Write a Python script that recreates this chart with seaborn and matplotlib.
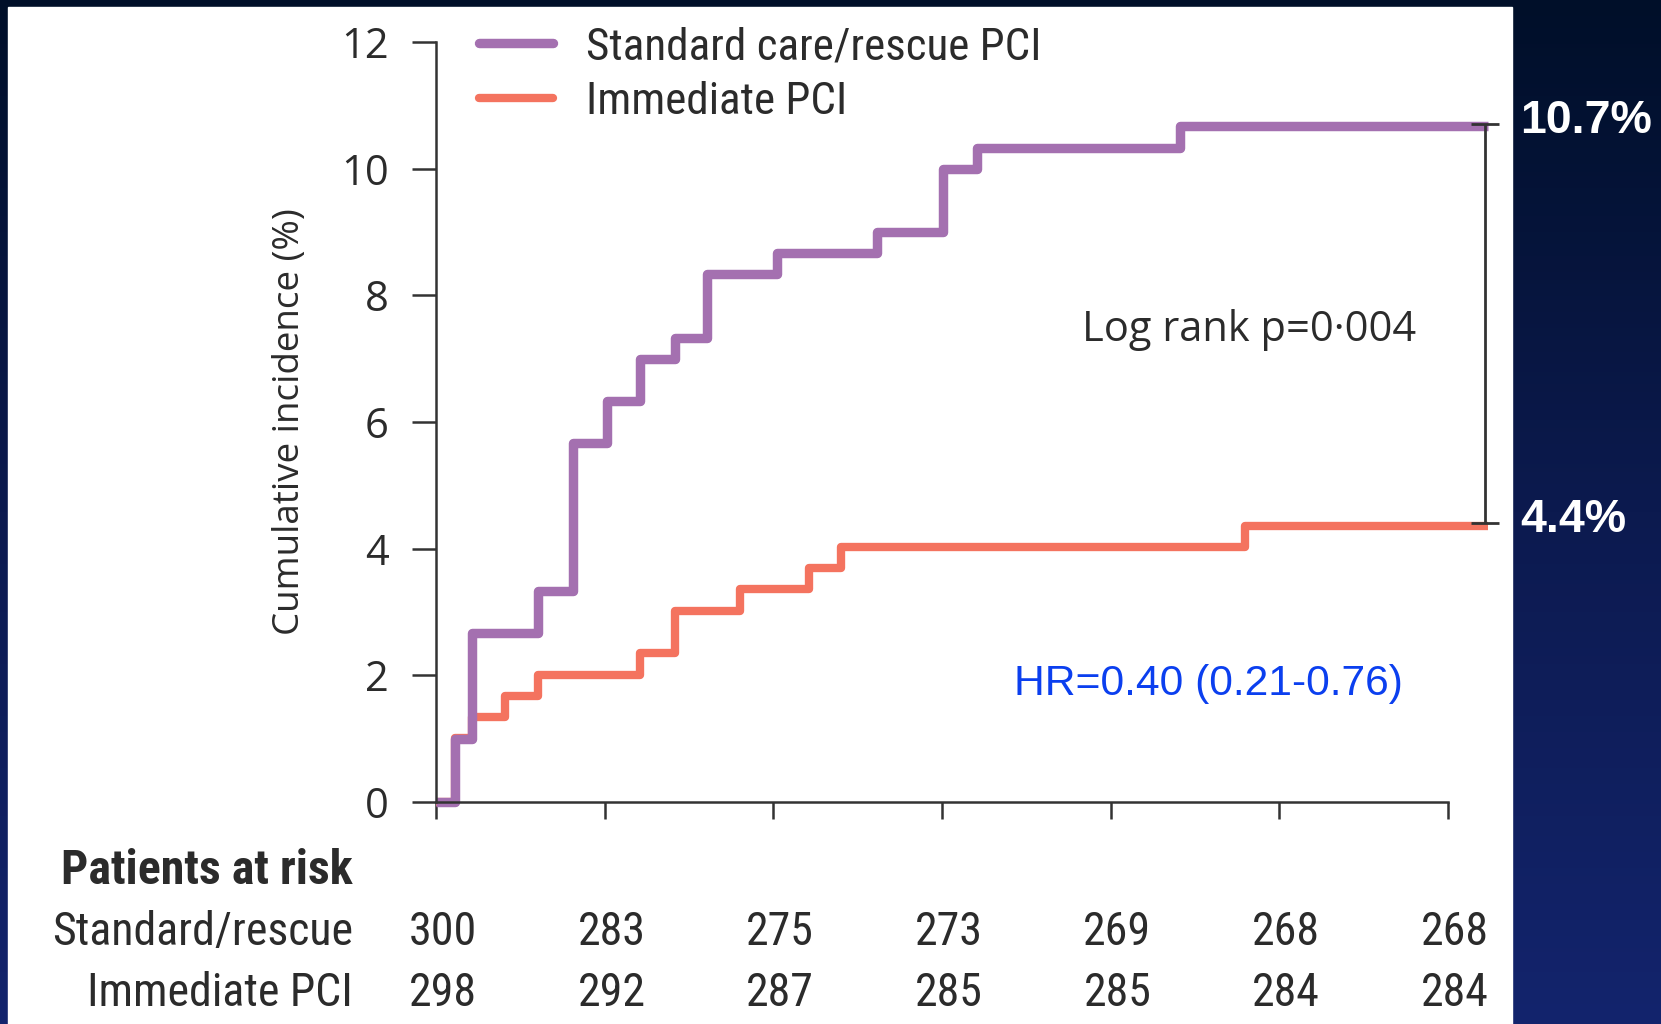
import numpy as np
import pandas as pd
import matplotlib
matplotlib.use("Agg")
import matplotlib.pyplot as plt
import seaborn as sns
from matplotlib import font_manager as fm
from matplotlib.colors import LinearSegmentedColormap
from matplotlib.patches import Rectangle
import matplotlib.transforms as mtrans

# ---------------- data ----------------
groups = ["Standard care/rescue PCI", "Immediate PCI"]
days_std = [0, 0.56, 1.06, 3.02, 4.07, 5.07, 6.05, 7.09, 8.04, 10.1, 13.07, 15.03, 16.03, 22.06, 31.2]
cuminc_std = [0, 1.0, 2.67, 3.33, 5.67, 6.33, 7.0, 7.33, 8.33, 8.67, 9.0, 10.0, 10.33, 10.67, 10.67]
days_imm = [0, 0.56, 1.07, 2.05, 3.02, 6.05, 7.09, 9.0, 11.06, 12.0, 23.98, 31.2]
cuminc_imm = [0, 1.01, 1.34, 1.68, 2.01, 2.35, 3.02, 3.36, 3.69, 4.03, 4.36, 4.36]
final_pct = [10.7, 4.4]
final_labels = ["10.7%", "4.4%"]
y_ticks = [0, 2, 4, 6, 8, 10, 12]
x_ticks = [0, 5, 10, 15, 20, 25, 30]
risk_rows = ["Standard/rescue", "Immediate PCI"]
risk_std = [300, 283, 275, 273, 269, 268, 268]
risk_imm = [298, 292, 287, 285, 285, 284, 284]
logrank_text = "Log rank p=0\u00b7004"
hr_text = "HR=0.40 (0.21-0.76)"
ylabel_text = "Cumulative incidence (%)"
risk_title = "Patients at risk"

# ---------------- style ----------------
sns.set_theme(style="white")
available = {f.name for f in fm.fontManager.ttflist}
narrow = next((f for f in ["Liberation Sans Narrow", "Roboto Condensed",
                           "DejaVu Sans Condensed"] if f in available), "Liberation Sans")
plt.rcParams["font.family"] = ["Open Sans", "DejaVu Sans"]

PURPLE = "#a470b0"
ORANGE = "#f4735f"
TXT = "#2b2b2b"
W, H = 1661, 1024

fig = plt.figure(figsize=(W / 100, H / 100), dpi=100)

# background gradient + white panel
bg = fig.add_axes([0, 0, 1, 1], zorder=-10)
cmap = LinearSegmentedColormap.from_list("bg", ["#000f29", "#0c1a4f", "#13246d"])
grad = np.linspace(0, 1, 256).reshape(-1, 1)
bg.imshow(grad, aspect="auto", cmap=cmap, extent=[0, 1, 0, 1], origin="upper")
bg.add_patch(Rectangle((8 / W, 0), (1512 - 8) / W, 1 - 7 / H, color="white"))
bg.set_xlim(0, 1)
bg.set_ylim(0, 1)
bg.axis("off")

# main axes
ax = fig.add_axes([436 / W, 1 - 802 / H, 1062.5 / W, 760 / H])
ax.set_facecolor("none")

df_std = pd.DataFrame({"day": days_std, "inc": cuminc_std})
df_imm = pd.DataFrame({"day": days_imm, "inc": cuminc_imm})
sns.lineplot(data=df_imm, x="day", y="inc", ax=ax, color=ORANGE, lw=6,
             drawstyle="steps-post", estimator=None, label=groups[1],
             clip_on=False, solid_capstyle="butt")
sns.lineplot(data=df_std, x="day", y="inc", ax=ax, color=PURPLE, lw=6.8,
             drawstyle="steps-post", estimator=None, label=groups[0],
             clip_on=False, solid_capstyle="butt")

ax.set_xlim(0, 31.5)
ax.set_ylim(0, 12)
ax.set_xticks(x_ticks)
ax.set_xticklabels([])
ax.set_yticks(y_ticks)
ax.set_yticklabels([str(v) for v in y_ticks], fontsize=30, color=TXT)
ax.set_xlabel("")
ax.set_ylabel(ylabel_text, fontsize=26.5, color=TXT, labelpad=24)
for s in ["top", "right"]:
    ax.spines[s].set_visible(False)
for s in ["left", "bottom"]:
    ax.spines[s].set_color("#333333")
    ax.spines[s].set_linewidth(1.8)
ax.spines["bottom"].set_bounds(0, 30)
ax.tick_params(axis="y", direction="out", length=17, width=1.8, color="#333333", pad=17, left=True)
ax.tick_params(axis="x", direction="out", length=12, width=1.8, color="#333333", bottom=True)

# legend
h, l = ax.get_legend_handles_labels()
order = [l.index(groups[0]), l.index(groups[1])]
leg = ax.legend([h[i] for i in order], [l[i] for i in order], loc="upper left",
                bbox_to_anchor=(479 / W, 1 - 26 / H), bbox_transform=fig.transFigure,
                frameon=False, borderpad=0, borderaxespad=0, handlelength=1.65,
                handletextpad=0.72, labelspacing=0.28,
                prop={"family": narrow, "size": 32.5})
for t in leg.get_texts():
    t.set_color(TXT)
for lh in leg.get_lines():
    lh.set_solid_capstyle("round")

# bracket between final values
bx = 31.1
ax.errorbar([bx], [(final_pct[0] + final_pct[1]) / 2], yerr=[(final_pct[0] - final_pct[1]) / 2],
            fmt="none", ecolor="#333333", elinewidth=2, capsize=10, capthick=2)

# annotations
ax.text(24.1, 7.45, logrank_text, fontsize=30, color=TXT, ha="center", va="center")
ax.text(22.9, 1.86, hr_text, fontsize=30.7, color="#0b3fef", ha="center", va="center",
        family=["Liberation Sans", "DejaVu Sans"])

tr_fig_data = mtrans.blended_transform_factory(fig.transFigure, ax.transData)
for v, lab in zip(final_pct, final_labels):
    ax.text(1520 / W, v + 0.05, lab, transform=tr_fig_data, fontsize=33.5, fontweight="bold",
            color="white", ha="left", va="center", family=["Liberation Sans", "DejaVu Sans"])

# numbers at risk table
fig.text(61 / W, 1 - 871 / H, risk_title, fontsize=34.5, fontweight="bold", color=TXT,
         ha="left", va="center", family=[narrow, "DejaVu Sans"])
row_y = [1 - 932 / H, 1 - 993 / H]
tr_data_fig = mtrans.blended_transform_factory(ax.transData, fig.transFigure)
for ry, name, counts in zip(row_y, risk_rows, [risk_std, risk_imm]):
    fig.text(353 / W, ry, name, fontsize=33, color=TXT, ha="right", va="center",
             family=[narrow, "DejaVu Sans"])
    for t, c in zip(x_ticks, counts):
        ax.text(t + 0.2, ry, str(c), transform=tr_data_fig, fontsize=33, color=TXT,
                ha="center", va="center", family=[narrow, "DejaVu Sans"], clip_on=False)

fig.savefig("out.png", dpi=100)
